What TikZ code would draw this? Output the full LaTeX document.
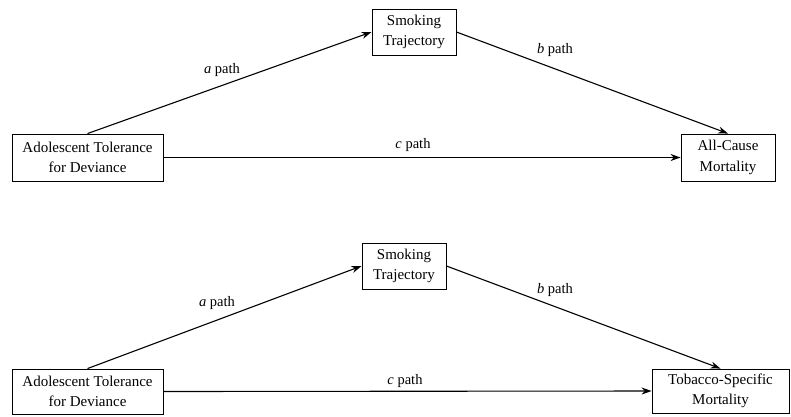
\documentclass[tikz,border=0pt]{standalone}
\usepackage{fontspec}
\setmainfont{Liberation Serif}
\usetikzlibrary{arrows.meta}

\tikzset{
	varbox/.style={draw, line width=0.9pt, align=center, font=\fontsize{15}{20.5}\selectfont, inner sep=0pt},
	pathlbl/.style={font=\fontsize{14.5}{17}\selectfont},
	effect/.style={line width=1.1pt, -{Stealth[length=10pt, width=7pt]}}
}

\begin{document}
\begin{tikzpicture}[x=1pt, y=-1pt]
		\useasboundingbox (0,0) rectangle (791,416);
		% top model
		\node[varbox, minimum width=151pt, minimum height=47pt] (tol1) at (87.5,157.5) {Adolescent Tolerance\\for Deviance};
		\node[varbox, minimum width=84pt, minimum height=46pt] (smk1) at (414,32) {Smoking\\Trajectory};
		\node[varbox, minimum width=94pt, minimum height=47pt] (all1) at (728,157.5) {All-Cause\\Mortality};
		\draw [effect] (tol1.north) -- (smk1.west);
		\draw [effect] (smk1.east) -- (all1.north);
		\draw [effect] (tol1.east) -- (all1.west);
		\node[pathlbl] (a1) at (222,70) {\textit{a} path};
		\node[pathlbl] (b1) at (555,50) {\textit{b} path};
		\node[pathlbl] (c1) at (413,145) {\textit{c} path};
		% bottom model
		\node[varbox, minimum width=151pt, minimum height=45pt] (tol2) at (87.5,391.5) {Adolescent Tolerance\\for Deviance};
		\node[varbox, minimum width=84pt, minimum height=46pt] (smk2) at (404,266) {Smoking\\Trajectory};
		\node[varbox, minimum width=137pt, minimum height=44pt] (tob2) at (720.5,391) {Tobacco-Specific\\Mortality};
		\draw [effect] (tol2.north) -- (smk2.west);
		\draw [effect] (smk2.east) -- (tob2.north);
		\draw [effect] (tol2.east) -- (tob2.west);
		\node[pathlbl] (a2) at (217,303) {\textit{a} path};
		\node[pathlbl] (b2) at (555,290) {\textit{b} path};
		\node[pathlbl] (c2) at (405,381) {\textit{c} path};
	\end{tikzpicture}
\end{document}
